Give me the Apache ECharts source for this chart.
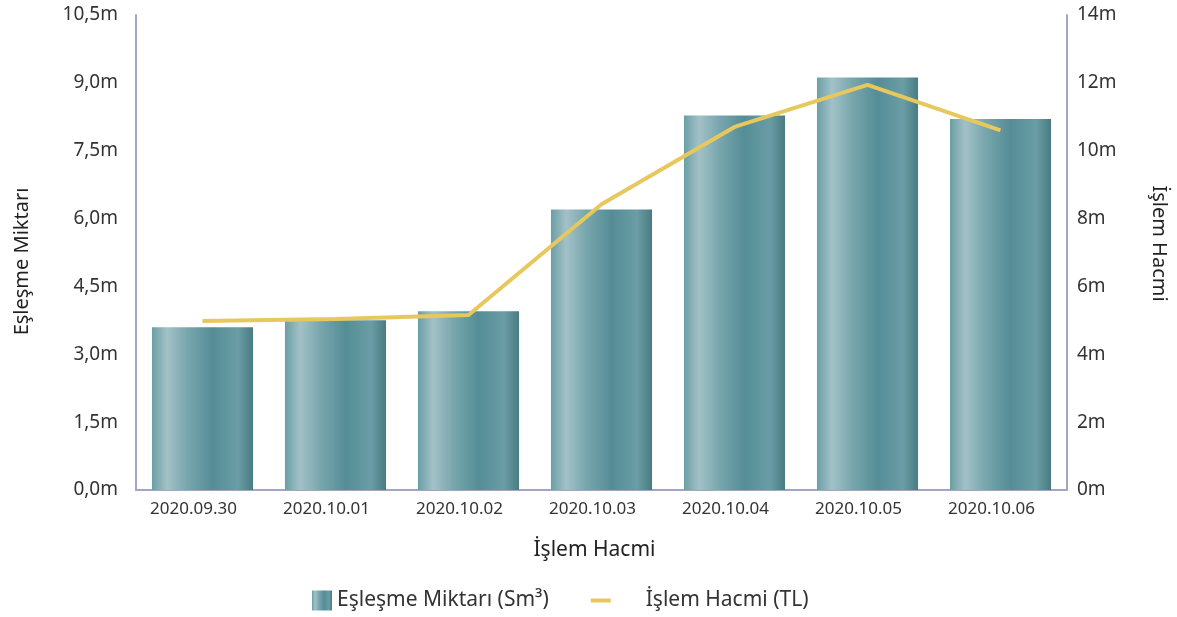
<!DOCTYPE html>
<html><head><meta charset="utf-8">
<script src="https://cdn.jsdelivr.net/npm/echarts@6/dist/echarts.min.js"></script>
<style>html,body{margin:0;padding:0;background:#fff}#c{width:1177px;height:617px}</style>
</head><body><div id="c"></div>
<script>
var categories = ['2020.09.30','2020.10.01','2020.10.02','2020.10.03','2020.10.04','2020.10.05','2020.10.06'];
var eslesmeMiktari = [3600000, 3750000, 3950000, 6200000, 8280000, 9120000, 8200000];
var islemHacmi = [4980000, 5040000, 5160000, 8420000, 10700000, 11940000, 10600000];
var leftTicks = {min:0, max:10500000, interval:1500000};
var rightTicks = {min:0, max:14000000, interval:2000000};

var font = '"Noto Sans", sans-serif';
var barGrad = new echarts.graphic.LinearGradient(0,0,1,0,[
  {offset:0, color:'#6b9ea6'},
  {offset:0.15, color:'#a2c1c7'},
  {offset:0.35, color:'#78a6ad'},
  {offset:0.6, color:'#558d96'},
  {offset:0.85, color:'#6a9da5'},
  {offset:1, color:'#497b81'}
]);
function fmtLeft(v){ return (v/1e6).toFixed(1).replace('.',',')+'m'; }
function fmtRight(v){ return Math.round(v/1e6)+'m'; }
var chart = echarts.init(document.getElementById('c'), null, {renderer:'canvas'});
chart.setOption({
  animation:false,
  textStyle:{fontFamily:font},
  grid:{left:136, right:109, top:15, bottom:127, containLabel:false},
  legend:{
    top:585, left:307, itemGap:42, itemWidth:20, itemHeight:20,
    symbolKeepAspect:true,
    textStyle:{fontSize:21, color:'#333', fontFamily:font},
    data:[
      {name:'Eşleşme Miktarı (Sm³)', icon:'rect'},
      {name:'İşlem Hacmi (TL)', icon:'path://M0,0L20,0L20,4L0,4Z', textStyle:{padding:[0,0,0,30]}}
    ]
  },
  xAxis:{
    type:'category', data:categories,
    name:'İşlem Hacmi', nameLocation:'middle', nameGap:50,
    nameTextStyle:{fontSize:21, color:'#222', fontFamily:font, padding:[0,14,0,0]},
    axisLine:{lineStyle:{color:'#a4a4c4', width:2}},
    axisTick:{show:false},
    axisLabel:{fontSize:17, color:'#333', margin:11, fontFamily:font, padding:[0,18,0,0]}
  },
  yAxis:[{
    type:'value', min:leftTicks.min, max:leftTicks.max, interval:leftTicks.interval,
    name:'Eşleşme Miktarı', nameLocation:'middle', nameGap:104, nameRotate:90,
    nameTextStyle:{fontSize:20, color:'#222', fontFamily:font, padding:[0,18,0,0]},
    axisLine:{show:true, lineStyle:{color:'#a4a4c4', width:2}},
    axisTick:{show:false}, splitLine:{show:false},
    axisLabel:{formatter:fmtLeft, fontSize:19, color:'#333', margin:18, fontFamily:font}
  },{
    type:'value', position:'right', min:rightTicks.min, max:rightTicks.max, interval:rightTicks.interval,
    name:'İşlem Hacmi', nameLocation:'middle', nameGap:82, nameRotate:-90,
    nameTextStyle:{fontSize:20, color:'#222', fontFamily:font, padding:[0,18,0,0]},
    axisLine:{show:true, lineStyle:{color:'#a4a4c4', width:2}},
    axisTick:{show:false}, splitLine:{show:false},
    axisLabel:{formatter:fmtRight, fontSize:19, color:'#333', margin:10, fontFamily:font}
  }],
  series:[{
    name:'Eşleşme Miktarı (Sm³)', type:'bar', data:eslesmeMiktari, yAxisIndex:0,
    barWidth:'76%', itemStyle:{color:barGrad}
  },{
    name:'İşlem Hacmi (TL)', type:'line', data:islemHacmi, yAxisIndex:1,
    showSymbol:false, symbol:'none', lineStyle:{color:'#e6c85c', width:4}, itemStyle:{color:'#e6c85c'}
  }]
});
</script></body></html>
